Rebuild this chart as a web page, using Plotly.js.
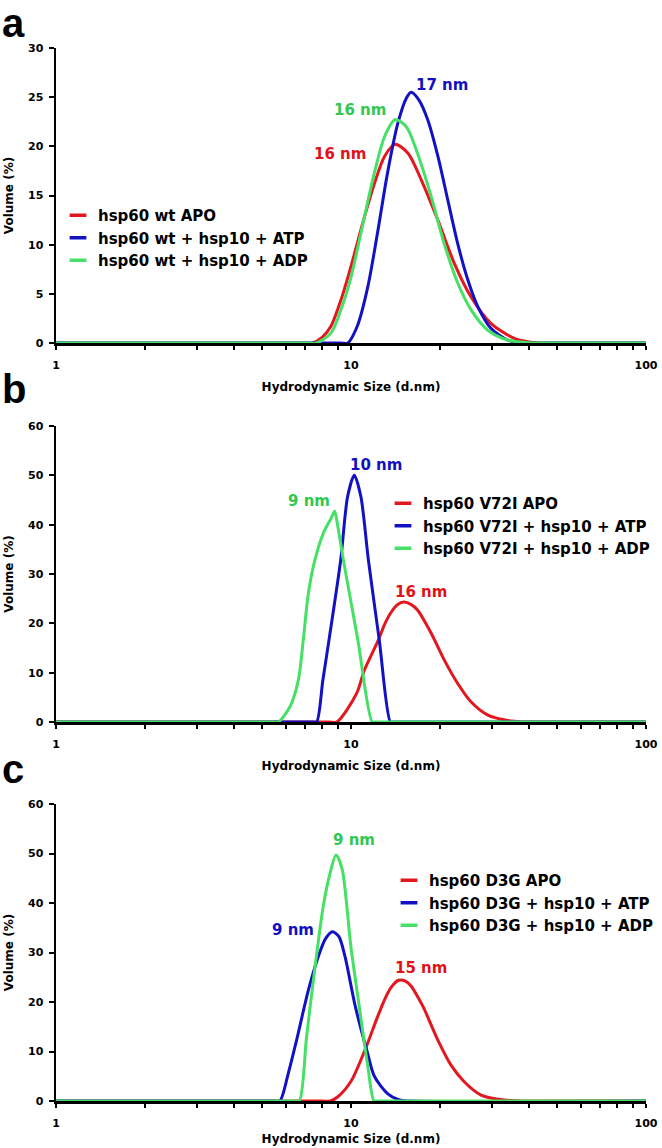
<!DOCTYPE html>
<html>
<head>
<meta charset="utf-8">
<script src="https://cdn.plot.ly/plotly-3.0.1.min.js"></script>
<style>html,body{margin:0;padding:0;background:#fff;}#chart{width:662px;height:1148px;}</style>
</head>
<body>
<div id="chart"></div>
<script>
// ---------- data (hydrodynamic size in nm, volume in %) ----------
const namesA = ["hsp60 wt APO", "hsp60 wt + hsp10 + ATP", "hsp60 wt + hsp10 + ADP"];
const namesB = ["hsp60 V72I APO", "hsp60 V72I + hsp10 + ATP", "hsp60 V72I + hsp10 + ADP"];
const namesC = ["hsp60 D3G APO", "hsp60 D3G + hsp10 + ATP", "hsp60 D3G + hsp10 + ADP"];

// panel a
const aApoX = [1, 6.8, 7.4, 8.0, 8.55, 9.25, 10, 11.1, 12.0, 13.0, 14.1, 15.6, 17.3, 19.7, 22.4, 25.5, 29.8, 35.8, 43, 48, 100];
const aApoY = [0, 0, 0, 0.6, 1.7, 4.4, 7.8, 12.8, 16.2, 19.0, 20.2, 19.3, 16.6, 12.5, 8.1, 4.7, 2.0, 0.47, 0, 0, 0];
const aAtpX = [1, 9.2, 9.75, 10.5, 11.4, 12.3, 13.3, 14.4, 15.4, 16.0, 17.0, 18.2, 19.7, 21.3, 23.0, 24.9, 26.9, 29.8, 34.0, 38.7, 43, 100];
const aAtpY = [0, 0, 0, 1.7, 5.7, 11.2, 17.3, 22.3, 24.9, 25.5, 24.7, 22.7, 19.0, 14.5, 10.1, 6.4, 3.7, 1.5, 0.3, 0, 0, 0];
const aAdpX = [1, 7.1, 7.65, 8.55, 9.25, 10, 11.1, 12.0, 13.0, 14.1, 15.4, 16.8, 18.7, 20.7, 23.0, 25.5, 29.1, 34, 40.8, 46, 100];
const aAdpY = [0, 0, 0, 1.0, 3.4, 6.7, 12.8, 17.3, 21.0, 22.7, 22.0, 19.3, 14.9, 10.1, 6.1, 3.4, 1.3, 0.3, 0, 0, 0];

// panel b
const bApoX = [1, 8.4, 8.95, 10.45, 11.1, 12.38, 13.0, 13.7, 14.4, 15.1, 16.0, 16.8, 18.7, 20.7, 23.0, 25.5, 29.1, 34, 38.7, 43, 100];
const bApoY = [0, 0, 0, 5.8, 10.5, 16.6, 19.8, 22.3, 23.8, 24.3, 23.8, 22.7, 18.0, 12.6, 7.8, 4.1, 1.4, 0.3, 0, 0, 0];
const bAtpX = [1, 7.45, 7.65, 8.03, 8.42, 9.23, 9.74, 10.26, 10.8, 11.45, 12.47, 13.6, 13.9, 100];
const bAtpY = [0, 0, 0, 8.5, 16.6, 32.9, 45.7, 50.0, 45.7, 32.9, 16.6, 0, 0, 0];
const bAdpX = [1, 5.45, 5.67, 6.21, 6.63, 6.89, 7.17, 7.55, 8.06, 8.55, 8.8, 9.0, 9.42, 10.55, 11.8, 12.1, 100];
const bAdpY = [0, 0, 0, 3.1, 8.5, 16.6, 26.1, 32.9, 38.3, 41.2, 42.7, 40.0, 32.9, 16.6, 0, 0, 0];

// panel c
const cApoX = [1, 8.0, 8.5, 9.0, 10.0, 11.1, 12.3, 13.0, 13.7, 14.5, 15.3, 16.0, 17.0, 17.7, 19.7, 21.8, 24.2, 27.6, 33.1, 38.7, 43, 100];
const cApoY = [0, 0, 0, 0.8, 4.0, 10.0, 17.0, 20.5, 23.0, 24.4, 24.2, 23.2, 20.6, 18.6, 12.3, 7.3, 3.9, 1.2, 0.2, 0, 0, 0];
const cAtpX = [1, 5.5, 5.74, 6.13, 6.54, 7.17, 7.75, 8.2, 8.65, 9.1, 9.54, 10.35, 11.4, 12.0, 13.3, 14.6, 16, 100];
const cAtpY = [0, 0, 0, 5.6, 12.3, 22.4, 29.2, 32.8, 34.2, 33.2, 29.2, 19.0, 9.5, 5.0, 1.5, 0.2, 0, 0];
const cAdpX = [1, 6.45, 6.68, 7.07, 7.55, 8.06, 8.45, 8.9, 9.32, 10.0, 10.7, 11.4, 11.97, 12.3, 100];
const cAdpY = [0, 0, 0, 13.0, 27.0, 39.5, 45.5, 49.7, 47.0, 31.0, 18.5, 7.0, 0, 0, 0];

// peak labels
const peakA = ["16 nm", "17 nm", "16 nm"];
const peakB = ["16 nm", "10 nm", "9 nm"];
const peakC = ["15 nm", "9 nm", "9 nm"];
const panelLetters = ["a", "b", "c"];

// axis ticks
const xTickVals = [1,2,3,4,5,6,7,8,9,10,20,30,40,50,60,70,80,90,100];
const xTickText = ["1","","","","","","","","","10","","","","","","","","","100"];
const yTitle = "Volume (%)";
const xTitle = "Hydrodynamic Size (d.nm)";

// ---------- styles ----------
const RED = "#e3171e", BLUE = "#1212c4", GREEN = "#45e065";
const colors = [RED, BLUE, GREEN];
const labelColors = ["#e01219", "#1010c0", "#30c850"];
const FONT = "DejaVu Sans, Arial, sans-serif";
const W = 662, H = 1148;

const panels = [
  {names: namesA, xs: [aApoX, aAtpX, aAdpX], ys: [aApoY, aAtpY, aAdpY], peaks: peakA,
   ymax: 30, dy: 5, top: 48, bottom: 343, sfx: "", legend: "legend", xstand: 12,
   peakPos: [[9.18, 19.2], [20.3, 26.2], [10.7, 23.7]]},
  {names: namesB, xs: [bApoX, bAtpX, bAdpX], ys: [bApoY, bAtpY, bAdpY], peaks: peakB,
   ymax: 60, dy: 10, top: 426, bottom: 722, sfx: "2", legend: "legend2", xstand: 12,
   peakPos: [[17.3, 26.4], [12.15, 52.1], [7.18, 44.7]]},
  {names: namesC, xs: [cApoX, cAtpX, cAdpX], ys: [cApoY, cAtpY, cAdpY], peaks: peakC,
   ymax: 60, dy: 10, top: 804, bottom: 1101, sfx: "3", legend: "legend3", xstand: 6,
   peakPos: [[17.3, 26.8], [6.38, 34.5], [10.2, 52.7]]}
];

const traces = [];
const layout = {
  width: W, height: H,
  margin: {l: 0, r: 0, t: 0, b: 0},
  paper_bgcolor: "#fff", plot_bgcolor: "#fff",
  font: {family: FONT, color: "#000", weight: "bold"},
  showlegend: true,
  annotations: []
};

const legendPos = [[58, 199], [383, 487], [389, 864]];

panels.forEach((p, i) => {
  const xa = "x" + p.sfx, ya = "y" + p.sfx;
  for (let k = 0; k < 3; k++) {
    traces.push({
      type: "scatter", mode: "lines", x: p.xs[k], y: p.ys[k],
      xaxis: xa, yaxis: ya, showlegend: false, name: p.names[k],
      line: {color: colors[k], width: 3, shape: "spline", smoothing: 0.8}
    });
  }
  for (let k = 0; k < 3; k++) {
    traces.push({
      type: "scatter", mode: "markers", x: [null], y: [null],
      xaxis: xa, yaxis: ya, name: p.names[k], legend: p.legend, showlegend: true,
      marker: {symbol: "line-ew", size: 12, color: colors[k], line: {color: colors[k], width: 3.5}}
    });
  }
  layout["xaxis" + p.sfx] = {
    type: "log", range: [0, 2], domain: [56 / W, 646 / W], anchor: ya,
    tickvals: xTickVals, ticktext: xTickText, ticks: "outside", ticklen: 4, tickwidth: 2,
    tickcolor: "#000", showline: true, linewidth: 2.5, linecolor: "#000",
    showgrid: false, zeroline: false, ticklabelstandoff: 6,
    tickfont: {size: 11, family: FONT, weight: "bold"},
    title: {text: xTitle, font: {size: 12, family: FONT, weight: "bold"}, standoff: p.xstand}
  };
  layout["yaxis" + p.sfx] = {
    range: [0, p.ymax], dtick: p.dy, tick0: 0,
    domain: [(H - p.bottom) / H, (H - p.top) / H], anchor: xa,
    ticks: "outside", ticklen: 5, tickwidth: 2, tickcolor: "#000",
    showline: true, linewidth: 2.5, linecolor: "#000",
    showgrid: false, zeroline: false, ticklabelstandoff: 3,
    tickfont: {size: 11, family: FONT, weight: "bold"},
    title: {text: yTitle, font: {size: 12, family: FONT, weight: "bold"}, standoff: 12}
  };
  layout[p.legend] = {
    x: legendPos[i][0] / W, y: (H - legendPos[i][1]) / H, xanchor: "left", yanchor: "top",
    bgcolor: "rgba(0,0,0,0)", borderwidth: 0, tracegroupgap: 0,
    font: {size: 15, family: FONT, weight: "bold", color: "#000"}
  };
  for (let k = 0; k < 3; k++) {
    layout.annotations.push({
      xref: xa, yref: ya, x: Math.log10(p.peakPos[k][0]), y: p.peakPos[k][1],
      text: p.peaks[k], showarrow: false, xanchor: "center", yanchor: "middle",
      font: {size: 15, family: FONT, weight: "bold", color: labelColors[k]}
    });
  }
});

// panel letters: "a" anchored to the top edge so it stays fully inside the page
const letterAnchor = [["top", 1], ["middle", (H - 389) / H], ["middle", (H - 769) / H]];
panelLetters.forEach((t, i) => {
  layout.annotations.push({
    xref: "paper", yref: "paper", x: 0.002, y: letterAnchor[i][1],
    xanchor: "left", yanchor: letterAnchor[i][0], showarrow: false, text: t, borderpad: 0,
    font: {size: 40, family: "Liberation Sans, Arial, sans-serif", weight: "bold", color: "#000"}
  });
});

Plotly.newPlot("chart", traces, layout, {displayModeBar: false, staticPlot: true});
</script>
</body>
</html>
